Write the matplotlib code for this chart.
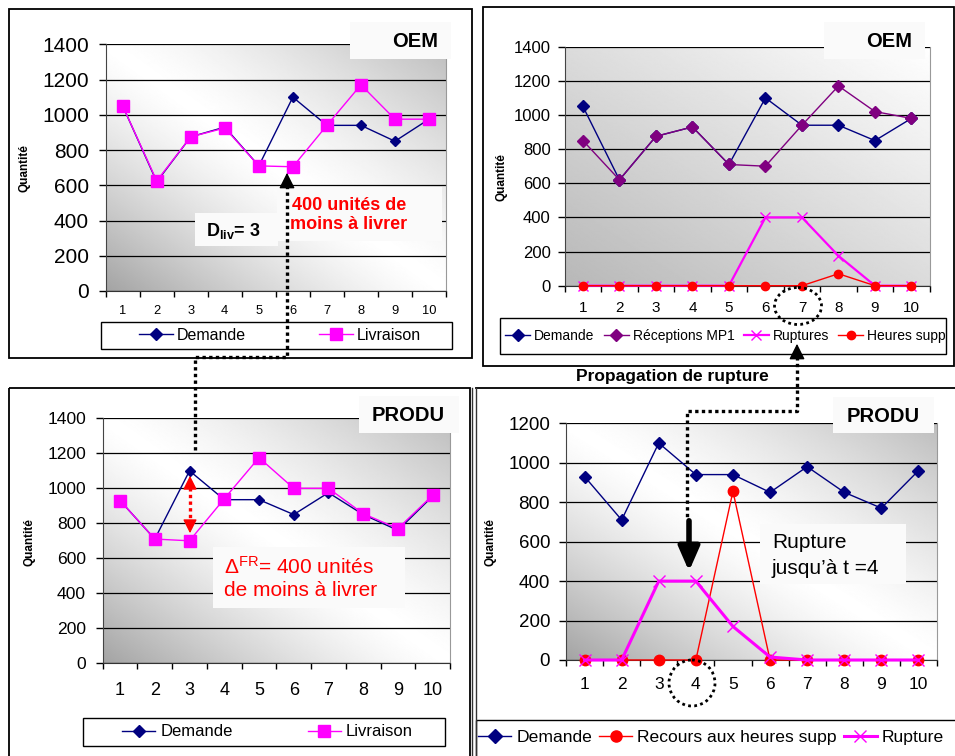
import numpy as np
import matplotlib
matplotlib.use("Agg")
import matplotlib.pyplot as plt
from matplotlib.patches import Rectangle, Ellipse
from matplotlib.lines import Line2D

plt.rcParams["font.family"] = ["Liberation Sans", "DejaVu Sans"]
plt.rcParams["mathtext.fontset"] = "custom"
plt.rcParams["mathtext.rm"] = "Liberation Sans"
plt.rcParams["mathtext.bf"] = "Liberation Sans:bold"
plt.rcParams["mathtext.it"] = "Liberation Sans:italic"

W, H = 955, 756

periodes = list(range(1, 11))

# OEM - demande / livraison (haut gauche)
oem_demande = [1050, 620, 875, 930, 710, 1100, 940, 940, 850, 975]
oem_livraison = [1050, 625, 875, 925, 710, 705, 940, 1170, 975, 975]

# OEM - propagation (haut droite)
oem_demande_b = [1050, 620, 875, 930, 710, 1100, 940, 940, 850, 980]
oem_receptions = [850, 620, 875, 930, 710, 700, 940, 1170, 1020, 980]
oem_ruptures = [0, 0, 0, 0, 0, 400, 400, 175, 0, 0]
oem_heures_supp = [0, 0, 0, 0, 0, 0, 0, 70, 0, 0]

# PRODU - demande / livraison (bas gauche)
produ_demande = [930, 710, 1100, 935, 935, 850, 975, 850, 760, 955]
produ_livraison = [930, 710, 700, 940, 1175, 1000, 1000, 855, 770, 960]

# PRODU - propagation (bas droite)
produ_demande_b = [930, 710, 1100, 940, 940, 850, 980, 850, 770, 960]
produ_heures_supp = [0, 0, 0, 0, 855, 0, 0, 0, 0, 0]
produ_rupture = [0, 0, 400, 400, 170, 15, 0, 0, 0, 0]

NAVY = "#000080"
MAGENTA = "#FF00FF"
VIOLET = "#800080"
ROUGE = "#FF0000"

fig = plt.figure(figsize=(W / 100, H / 100), dpi=100)
fig.patch.set_facecolor("white")


def zone(x0, y0, x1, y1, **kw):
    return fig.add_axes([x0 / W, 1 - y1 / H, (x1 - x0) / W, (y1 - y0) / H], **kw)


def fond(ax, mode):
    xs = np.linspace(0, 1, 300)
    X, Y = np.meshgrid(xs, xs)
    if mode == "lineaire":
        g = 0.72 + 0.28 * (X + Y) / 2
    else:
        s = X + Y - 1
        g = np.where(s < 0, 1 - 0.36 * np.abs(s) ** 1.3, 1 - 0.26 * np.abs(s) ** 1.3)
    ax.imshow(g, cmap="gray", vmin=0, vmax=1, extent=(0, 1, 0, 1), origin="lower",
              transform=ax.transAxes, aspect="auto", zorder=0, interpolation="bilinear")


def panneau(rect, ymax, fs_y, pad_y, fs_x, pad_x, mode):
    ax = zone(*rect)
    fond(ax, mode)
    ax.set_xlim(0.5, 10.5)
    ax.set_ylim(0, ymax)
    ax.set_yticks(range(0, ymax + 1, 200))
    ax.set_xticks(periodes)
    ax.set_xticks(np.arange(0.5, 11, 1), minor=True)
    ax.tick_params(axis="x", which="major", length=0, labelsize=fs_x, pad=pad_x)
    ax.tick_params(axis="x", which="minor", length=4, width=1, direction="out")
    ax.tick_params(axis="y", length=5, width=1, labelsize=fs_y, pad=pad_y)
    ax.grid(axis="y", color="black", lw=0.9)
    ax.spines["top"].set_visible(False)
    ax.spines["right"].set_color("#999999")
    ax.spines["left"].set_color("#444444")
    ax.spines["bottom"].set_color("#333333")
    return ax


def legende(ax, handles, x, y, fs, hl, tp, cs):
    ax.legend(handles=handles, loc="center left", bbox_to_anchor=(x / W, 1 - y / H),
              bbox_transform=fig.transFigure, ncol=len(handles), frameon=False,
              fontsize=fs, handlelength=hl, handletextpad=tp, columnspacing=cs,
              borderpad=0, borderaxespad=0, numpoints=1)


# ---------- haut gauche : OEM ----------
ax1 = panneau((105.7, 44.3, 446, 291), 1400, 15, 7, 9.3, 10, "diag")
ax1.plot(periodes, oem_demande, color=NAVY, lw=1, marker="D", ms=5.5, clip_on=False, zorder=3)
ax1.plot(periodes, oem_livraison, color=MAGENTA, lw=1, marker="s", ms=8, clip_on=False, zorder=4)
h1 = [Line2D([], [], color=NAVY, lw=1, marker="D", ms=6, label="Demande"),
      Line2D([], [], color=MAGENTA, lw=1, marker="s", ms=8, label="Livraison")]
legende(ax1, h1, 139, 335.5, 11.5, 2.1, 0.25, 4.6)

# ---------- haut droite : OEM propagation ----------
ax2 = panneau((564.7, 46.7, 929.7, 285.7), 1400, 12, 5, 11, 11, "lineaire")
ax2.plot(periodes, oem_demande_b, color=NAVY, lw=1, marker="D", ms=6.3, clip_on=False, zorder=3)
ax2.plot(periodes, oem_receptions, color=VIOLET, lw=1, marker="D", ms=6.3, clip_on=False, zorder=4)
ax2.plot(periodes, oem_ruptures, color=MAGENTA, lw=1.6, marker="x", ms=7, mew=1, clip_on=False, zorder=5)
ax2.plot(periodes, oem_heures_supp, color=ROUGE, lw=1, marker="o", ms=6, clip_on=False, zorder=5)
h2 = [Line2D([], [], color=NAVY, lw=1, marker="D", ms=6, label="Demande"),
      Line2D([], [], color=VIOLET, lw=1, marker="D", ms=6, label="Réceptions MP1"),
      Line2D([], [], color=MAGENTA, lw=1.6, marker="x", ms=7, label="Ruptures"),
      Line2D([], [], color=ROUGE, lw=1, marker="o", ms=6, label="Heures supp")]
legende(ax2, h2, 505, 336, 10, 1.8, 0.3, 0.65)

# ---------- bas gauche : PRODU ----------
ax3 = panneau((102.7, 418.3, 450, 663.3), 1400, 12.6, 7, 13, 13.5, "diag")
ax3.plot(periodes, produ_demande, color=NAVY, lw=1, marker="D", ms=5.5, clip_on=False, zorder=3)
ax3.plot(periodes, produ_livraison, color=MAGENTA, lw=1, marker="s", ms=8, clip_on=False, zorder=4)
h3 = [Line2D([], [], color=NAVY, lw=1, marker="D", ms=6, label="Demande"),
      Line2D([], [], color=MAGENTA, lw=1, marker="s", ms=8, label="Livraison")]
legende(ax3, h3, 122, 732, 12, 2.0, 0.3, 4.5)

# ---------- bas droite : PRODU propagation ----------
ax4 = panneau((566, 423.3, 937, 660), 1200, 13.5, 6.5, 12.5, 12, "diag")
ax4.plot(periodes, produ_demande_b, color=NAVY, lw=1, marker="D", ms=6.5, clip_on=False, zorder=3)
ax4.plot(periodes, produ_heures_supp, color=ROUGE, lw=1, marker="o", ms=7.5, clip_on=False, zorder=4)
ax4.plot(periodes, produ_rupture, color=MAGENTA, lw=2.2, marker="x", ms=9, mew=1, clip_on=False, zorder=5)
h4 = [Line2D([], [], color=NAVY, lw=1, marker="D", ms=7, label="Demande"),
      Line2D([], [], color=ROUGE, lw=1, marker="o", ms=8, label="Recours aux heures supp"),
      Line2D([], [], color=MAGENTA, lw=2.2, marker="x", ms=9, label="Rupture")]
legende(ax4, h4, 478, 737, 12.6, 1.9, 0.28, 0.4)

# ---------- calque d'annotations en pixels ----------
ov = fig.add_axes([0, 0, 1, 1], zorder=10)
ov.set_xlim(0, W)
ov.set_ylim(H, 0)
ov.axis("off")
ov.patch.set_alpha(0)

# cadres
ov.add_patch(Rectangle((9, 9), 463, 349, fill=False, ec="black", lw=1.3))
ov.add_patch(Rectangle((483, 7), 471, 359, fill=False, ec="black", lw=1.3))
ov.add_patch(Rectangle((9, 388), 461, 380, fill=False, ec="black", lw=1.3))
ov.plot([476, 955], [388, 388], color="black", lw=1.3)
ov.plot([472, 472], [388, 756], color="#333333", lw=1)
ov.plot([476, 476], [388, 756], color="#333333", lw=1)

# cadres de légende
ov.add_patch(Rectangle((101, 322), 351, 27, fill=False, ec="black", lw=1))
ov.add_patch(Rectangle((500, 318), 446, 36, fill=False, ec="black", lw=1))
ov.add_patch(Rectangle((83, 718), 362, 28, fill=False, ec="black", lw=1))
ov.add_patch(Rectangle((476, 720), 490, 40, fill=False, ec="black", lw=1))


def boite(x0, y0, x1, y1, fc="#fafafa"):
    ov.add_patch(Rectangle((x0, y0), x1 - x0, y1 - y0, fc=fc, ec="none", zorder=2))


# titres OEM / PRODU
for (x0, y0, x1, y1), txt, cx in [((350, 22, 451, 59), "OEM", 415),
                                  ((824, 22, 925, 59), "OEM", 889),
                                  ((359, 396, 459, 433), "PRODU", 408),
                                  ((833, 397, 934, 433), "PRODU", 883)]:
    boite(x0, y0, x1, y1)
    ov.text(cx, (y0 + y1) / 2 + 1, txt, fontsize=14.5, fontweight="bold",
            ha="center", va="center", zorder=3)

# libellés Quantité
for x, y in [(24, 168), (501, 177), (29, 542), (490, 542)]:
    ov.text(x, y, "Quantité", fontsize=8.5, fontweight="bold", rotation=90,
            ha="center", va="center")

# haut gauche : annotations
boite(277, 187, 442, 241)
ov.text(349, 215, "400 unités de\nmoins à livrer", color=ROUGE, fontsize=13,
        fontweight="bold", ha="center", va="center", linespacing=1.15, zorder=3)
boite(195, 213, 278, 246)
ov.text(233, 231, r"D$_{\mathbf{liv}}$= 3", fontsize=13, fontweight="bold",
        ha="center", va="center", zorder=3)

# connecteur pointillé PRODU -> OEM
ov.plot([195, 195, 287, 287], [450, 357, 357, 180], color="black", lw=2.4,
        ls=(0, (1, 1)), zorder=4)
ov.annotate("", xy=(287, 170), xytext=(287, 182),
            arrowprops=dict(arrowstyle="-|>,head_length=0.6,head_width=0.3",
                            color="black", lw=1, mutation_scale=16), zorder=4)

# bas gauche : annotations
ov.plot([190, 190], [481, 528], color=ROUGE, lw=2.4, ls=(0, (1, 1)), zorder=4)
ov.annotate("", xy=(190, 473), xytext=(190, 484),
            arrowprops=dict(arrowstyle="-|>,head_length=0.6,head_width=0.3",
                            color=ROUGE, lw=1, mutation_scale=14), zorder=4)
ov.annotate("", xy=(190, 536), xytext=(190, 525),
            arrowprops=dict(arrowstyle="-|>,head_length=0.6,head_width=0.3",
                            color=ROUGE, lw=1, mutation_scale=14), zorder=4)
boite(213, 547, 405, 608)
ov.text(224, 567, "Δ$^{\\mathrm{FR}}$= 400 unités", color=ROUGE, fontsize=15,
        ha="left", va="center", zorder=3)
ov.text(224, 591, "de moins à livrer", color=ROUGE, fontsize=15,
        ha="left", va="center", zorder=3)

# titre central
ov.text(672, 377, "Propagation de rupture", fontsize=12.5, fontweight="bold",
        ha="center", va="center")

# haut droite : ellipse autour de 7 et connecteur
ov.add_patch(Ellipse((798, 306), 47, 37, fill=False, ec="black", lw=2, ls=(0, (1, 1.2))))
ov.plot([797, 797, 687, 687], [350, 411, 411, 518], color="black", lw=2.4,
        ls=(0, (1, 1)), zorder=4)
ov.annotate("", xy=(797, 341), xytext=(797, 352),
            arrowprops=dict(arrowstyle="-|>,head_length=0.6,head_width=0.3",
                            color="black", lw=1, mutation_scale=16), zorder=4)
ov.annotate("", xy=(689, 574), xytext=(689, 518),
            arrowprops=dict(arrowstyle="-|>,head_length=0.8,head_width=0.35",
                            color="black", lw=4, mutation_scale=18), zorder=4)

# bas droite : cercle autour de 4 et texte
ov.add_patch(Ellipse((692, 683), 46, 46, fill=False, ec="black", lw=2, ls=(0, (1, 1.2))))
boite(760, 524, 906, 584)
ov.text(772, 543, "Rupture", fontsize=15, ha="left", va="center", zorder=3)
ov.text(772, 568, "jusqu’à t =4", fontsize=15, ha="left", va="center", zorder=3)

fig.savefig("out.png", dpi=100)
